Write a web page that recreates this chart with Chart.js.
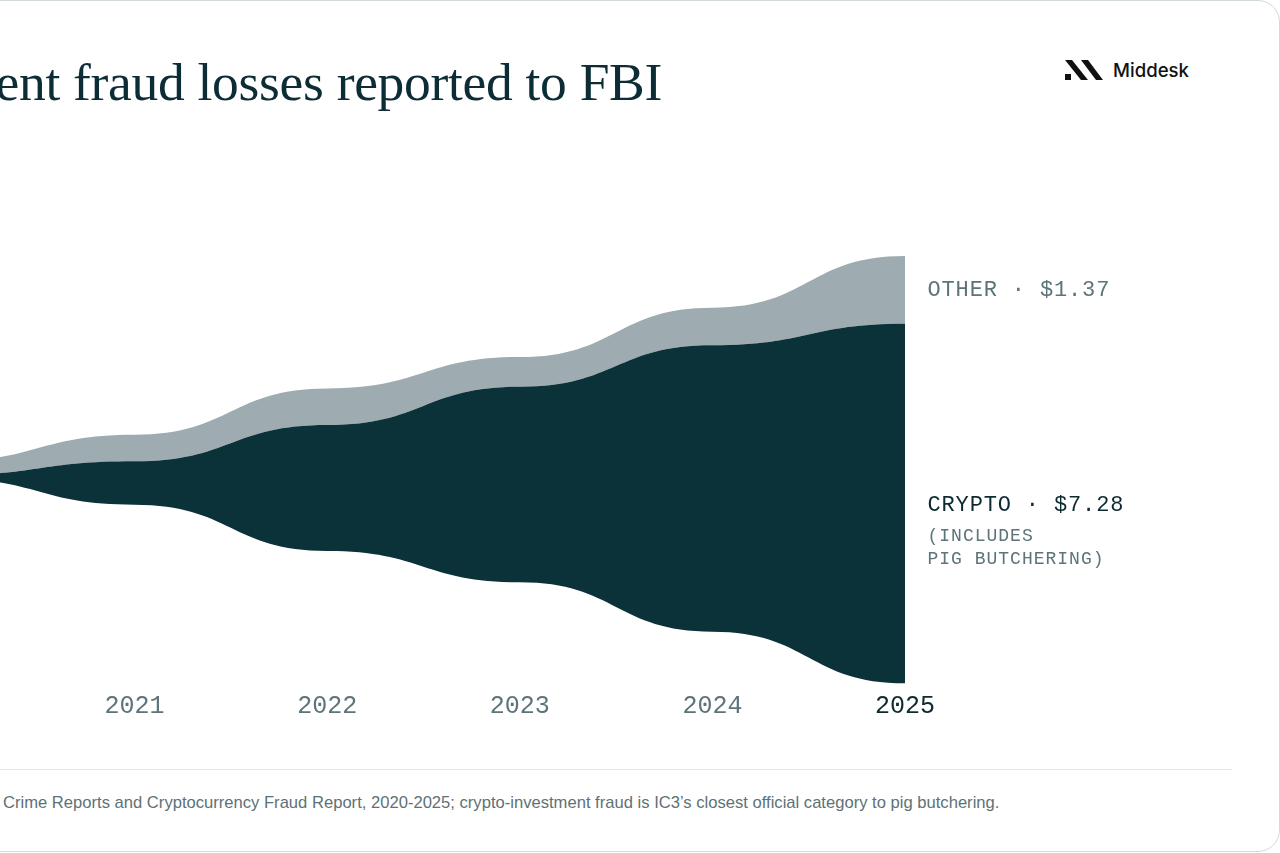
<!DOCTYPE html>
<html>
<head>
<meta charset="utf-8">
<script src="https://cdn.jsdelivr.net/npm/chart.js@4.4.1/dist/chart.umd.min.js"></script>
<style>
  html, body { margin: 0; padding: 0; }
  body { width: 1280px; height: 853px; overflow: hidden; background: #ffffff; position: relative; }
  .card { position: absolute; left: -40px; top: 0; width: 1320px; height: 852px; box-sizing: border-box;
          border: 1px solid #d3dada; border-radius: 22px; background: #ffffff; }
  .title { position: absolute; right: 618px; top: 56px; white-space: nowrap; font-family: "Liberation Serif", serif;
           font-size: 53.5px; line-height: 53.5px; color: #0c2d35; letter-spacing: -0.3px; }
  .brand { position: absolute; left: 1113px; top: 60px; font-family: Inter, "Noto Sans", sans-serif; font-weight: 500;
           font-size: 18.6px; line-height: 20px; color: #111111; }
  .logo { position: absolute; left: 1063px; top: 58px; }
  #wrap { position: absolute; left: -118px; top: 200px; width: 1083px; height: 521px; }
  .lab { position: absolute; left: 927.5px; white-space: nowrap; font-family: "Liberation Mono", monospace; }
  .big { font-size: 22px; line-height: 26px; letter-spacing: 0.85px; }
  .small { font-size: 18px; line-height: 23px; letter-spacing: 1px; color: #5d747a; }
  .sep { position: absolute; left: 0; top: 769px; width: 1232px; height: 1px; background: #e2e7e7; }
  .foot { position: absolute; left: 3px; top: 793px; white-space: nowrap; font-family: "Liberation Sans", Arial, sans-serif;
          font-size: 16.6px; line-height: 20px; color: #5e7176; }
</style>
</head>
<body>
<div class="card"></div>
<div class="title">ent fraud losses reported to FBI</div>
<svg class="logo" width="42" height="24" viewBox="0 0 42 24">
  <polygon points="2,2 9,2 25,22 18,22" fill="#111111"/>
  <polygon points="18,2 25,2 40,22 33,22" fill="#111111"/>
  <rect x="2" y="16" width="6" height="6" fill="#111111"/>
</svg>
<div class="brand">Middesk</div>
<div id="wrap"><canvas id="c"></canvas></div>
<div class="lab big" style="top:278.4px;color:#5d747a;">OTHER · $1.37</div>
<div class="lab big" style="top:492.8px;color:#0d2a31;">CRYPTO · $7.28</div>
<div class="lab small" style="top:524.7px;">(INCLUDES<br>PIG BUTCHERING)</div>
<div class="sep"></div>
<div class="foot">Crime Reports and Cryptocurrency Fraud Report, 2020-2025; crypto-investment fraud is IC3’s closest official category to pig butchering.</div>
<script>
// Data (USD billions)
const years = ['2020', '2021', '2022', '2023', '2024', '2025'];
const crypto = [0.05, 0.88, 2.55, 3.96, 5.80, 7.28];
const other = [0.29, 0.54, 0.74, 0.60, 0.76, 1.37];
// Streamgraph silhouette offset: centre the stack around zero
const offset = years.map((_, i) => -(crypto[i] + other[i]) / 2);

const CRYPTO_COLOR = '#0b3139';
const OTHER_COLOR = '#9eabb0';

// Horizontal-tangent (bump) smoothing using the library's own point pixels
const bumpPlugin = {
  id: 'bump',
  afterDatasetsUpdate(chart) {
    chart.data.datasets.forEach((ds, i) => {
      const meta = chart.getDatasetMeta(i);
      const pts = meta.data;
      for (let k = 0; k < pts.length; k++) {
        const p = pts[k];
        const prev = pts[k - 1], next = pts[k + 1];
        const hp = prev ? (p.x - prev.x) / 2 : 0;
        const hn = next ? (next.x - p.x) / 2 : 0;
        p.cp1x = p.x - hp; p.cp1y = p.y;
        p.cp2x = p.x + hn; p.cp2y = p.y;
      }
      if (meta.dataset) meta.dataset._pointsUpdated = true;
    });
  }
};

new Chart(document.getElementById('c'), {
  type: 'line',
  data: {
    labels: years,
    datasets: [
      { label: 'offset', data: offset, borderWidth: 0, borderColor: 'rgba(0,0,0,0)', pointRadius: 0, fill: false, tension: 0.4 },
      { label: 'Crypto', data: crypto, borderWidth: 0, borderColor: CRYPTO_COLOR, backgroundColor: CRYPTO_COLOR, pointRadius: 0, fill: '-1', tension: 0.4 },
      { label: 'Other', data: other, borderWidth: 0, borderColor: OTHER_COLOR, backgroundColor: OTHER_COLOR, pointRadius: 0, fill: '-1', tension: 0.4 }
    ]
  },
  options: {
    responsive: true,
    maintainAspectRatio: false,
    animation: false,
    layout: { padding: { left: 60, right: 60, top: 0, bottom: 0 } },
    plugins: { legend: { display: false }, tooltip: { enabled: false } },
    elements: { point: { radius: 0, hoverRadius: 0 } },
    scales: {
      x: {
        type: 'category',
        offset: false,
        grid: { display: false, drawTicks: false },
        border: { display: false },
        ticks: {
          padding: 0,
          autoSkip: false,
          maxRotation: 0,
          font: { family: 'Liberation Mono', size: 25 },
          color: (ctx) => ctx.index === years.length - 1 ? '#0d2a31' : '#5d747a'
        }
      },
      y: {
        display: false,
        stacked: 'single',
        min: -4.48,
        max: 5.46
      }
    }
  },
  plugins: [bumpPlugin]
});
</script>
</body>
</html>
